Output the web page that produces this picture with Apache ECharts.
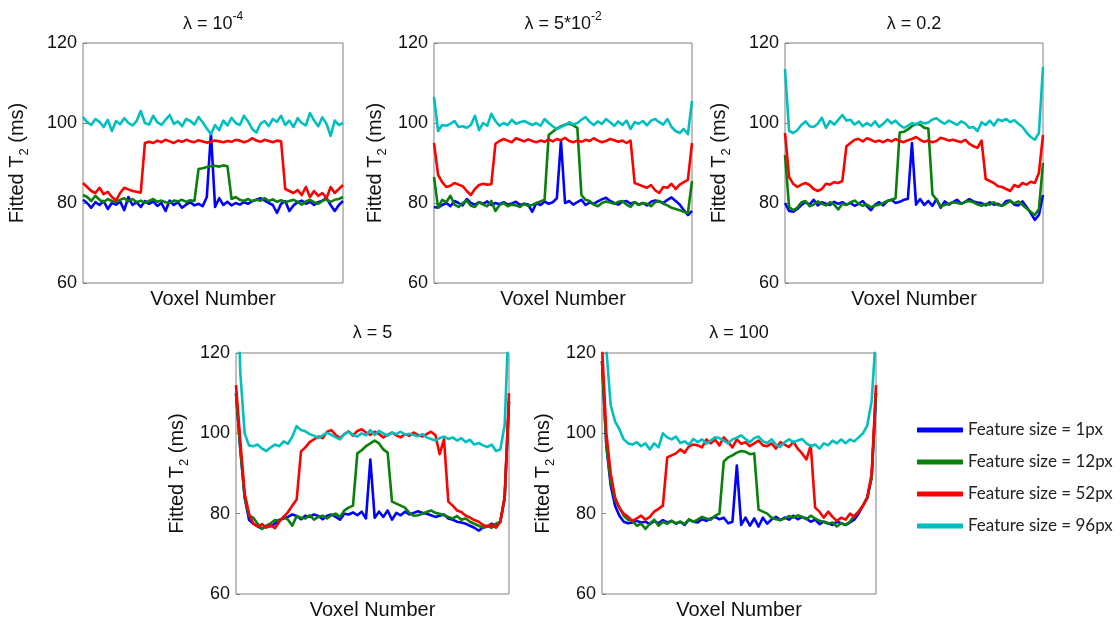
<!DOCTYPE html>
<html>
<head>
<meta charset="utf-8">
<script src="https://cdn.jsdelivr.net/npm/echarts@6/dist/echarts.min.js"></script>
<style>
html,body{margin:0;padding:0;background:#ffffff;}
#chart{width:1120px;height:624px;}
</style>
</head>
<body>
<div id="chart"></div>
<script>
// ---------------- DATA ----------------
const seriesNames = ['Feature size = 1px', 'Feature size = 12px', 'Feature size = 52px', 'Feature size = 96px'];
const panelTitles = ['{a|λ = 10}{s|-4}', '{a|λ = 5*10}{s|-2}', '{a|λ = 0.2}', '{a|λ = 5}', '{a|λ = 100}'];
const yTickValues = [60, 80, 100, 120];
const xAxisLabel = 'Voxel Number';
const yAxisLabel = '{m|Fitted T}{s|2}{m| (ms)}';

// Panel 1 : lambda = 1e-4
const p1Blue = [
  80.8, 80.0, 78.8, 80.2, 79.5, 80.5, 78.5, 80.0,
  79.6, 80.4, 78.2, 81.5, 79.5, 80.2, 79.0, 80.5,
  79.8, 80.4, 79.3, 80.0, 78.0, 80.6, 79.5, 80.2,
  78.8, 79.6, 80.2, 79.4, 79.8, 79.2, 81.5, 97.5,
  79.0, 81.2, 79.5, 80.3, 79.4, 80.0, 79.6, 80.2,
  79.8, 80.5, 80.8, 81.2, 80.6, 80.0, 79.5, 77.5,
  79.8, 80.5, 78.0, 79.4, 80.2, 80.6, 79.8, 80.3,
  79.5, 80.2, 80.6, 81.2, 79.5, 78.0, 79.5, 80.5
];
const p1Green = [
  82.0, 81.5, 80.5, 81.8, 80.8, 80.2, 81.0, 80.5,
  80.2, 80.8, 81.2, 80.4, 81.0, 80.2, 80.6, 80.0,
  80.5, 81.0, 80.3, 80.6, 80.2, 80.0, 80.6, 80.4,
  80.8, 80.3, 80.7, 80.5, 88.5, 88.7, 89.0, 89.2,
  89.3, 89.1, 89.4, 89.2, 81.0, 81.5, 80.8, 80.5,
  81.0, 80.4, 80.8, 80.6, 81.2, 80.5, 80.9, 80.3,
  80.7, 80.2, 80.5, 80.8, 80.3, 79.6, 80.4, 80.8,
  80.2, 79.8, 80.5, 80.9, 80.3, 80.8, 81.0, 81.5
];
const p1Red = [
  85.0, 84.0, 83.0, 82.5, 83.8, 82.2, 82.8, 81.5,
  80.6, 82.5, 83.8, 83.4, 83.0, 82.8, 82.6, 95.0,
  95.3, 95.0, 95.6, 95.2, 95.8, 95.4, 95.0, 95.6,
  95.3, 95.8, 95.4, 95.2, 95.7, 95.4, 95.1, 95.3,
  95.6, 95.4, 95.2, 95.5, 95.3, 95.8, 95.6, 95.2,
  95.5, 96.2, 95.6, 95.3, 95.8, 95.5, 95.2, 95.6,
  95.4, 83.5, 83.0, 82.5, 83.2, 82.0, 84.0, 81.5,
  83.0, 81.8, 82.5, 81.2, 84.0, 82.5, 83.5, 84.5
];
const p1Cyan = [
  101.5, 100.2, 99.5, 101.0, 100.3, 99.0, 100.8, 98.0,
  100.5, 99.7, 101.2, 100.0, 99.4, 100.5, 103.0, 100.0,
  99.6, 101.8, 100.2, 99.5, 100.8, 102.0, 99.8, 100.4,
  99.2, 101.0, 100.5, 99.6, 101.5, 100.2, 98.6, 97.2,
  99.5, 98.2, 100.6, 99.4, 101.3, 100.0, 99.5, 101.8,
  100.4, 98.5, 97.6, 99.8, 100.5, 99.2, 101.0, 100.3,
  101.8, 99.5, 100.6, 99.0, 101.2, 100.0, 99.4, 102.5,
  100.6, 99.2, 101.4, 99.8, 96.8, 100.6, 99.5, 100.0
];

// Panel 2 : lambda = 5e-2
const p2Blue = [
  79.0, 78.8, 79.5, 80.0, 79.2, 80.5, 80.0, 79.4,
  81.0, 80.0, 79.6, 80.2, 79.8, 80.4, 79.5, 80.0,
  79.7, 80.2, 79.6, 79.9, 80.3, 79.5, 79.8, 79.6,
  77.8, 80.0, 79.5, 80.4, 79.8, 80.2, 81.2, 95.5,
  80.0, 80.5, 79.6, 80.2, 80.8, 79.5, 80.1, 79.8,
  80.4, 80.9, 81.3, 80.5, 80.0, 79.6, 80.3, 80.5,
  79.8, 80.2, 79.6, 80.0, 79.4, 80.3, 80.6, 80.4,
  80.0, 80.8, 81.4, 80.5, 79.6, 78.2, 77.0, 78.0
];
const p2Green = [
  86.5, 78.8, 80.8, 80.2, 81.8, 79.6, 79.0, 80.0,
  80.6, 79.3, 79.0, 80.2, 79.6, 79.2, 80.5, 78.0,
  79.5, 80.0, 79.2, 79.6, 79.4, 79.0, 79.8, 79.3,
  79.5, 80.0, 80.4, 80.8, 97.0, 97.8, 98.6, 99.2,
  99.6, 99.8, 99.4, 98.8, 82.0, 80.8, 80.5, 79.6,
  79.2, 80.0, 80.4, 80.1, 79.8, 80.3, 80.5, 79.6,
  79.0, 80.2, 79.5, 80.0, 79.8, 79.2, 80.2, 80.5,
  79.8, 79.4, 78.8, 78.5, 78.2, 77.8, 77.5, 85.5
];
const p2Red = [
  95.0, 87.0, 85.2, 84.0, 84.3, 85.0, 84.6, 84.2,
  83.0, 82.0, 83.5, 84.5, 84.8, 84.6, 84.7, 94.8,
  95.5, 96.0, 95.6, 95.2, 96.2, 95.8, 95.4, 95.9,
  95.5, 95.2, 95.6, 95.3, 95.9, 95.4, 96.0, 95.7,
  96.3, 95.5, 95.2, 95.6, 95.3, 95.8, 95.5, 96.2,
  95.6, 95.2, 95.5, 96.0, 95.7, 95.3, 95.6, 95.0,
  95.6, 85.0, 84.6, 84.2, 83.8, 84.5, 83.2, 82.5,
  84.0, 83.8, 84.8, 83.5, 84.6, 85.2, 85.8, 95.0
];
const p2Cyan = [
  106.5, 98.0, 99.5, 99.3, 99.8, 100.5, 99.0, 99.2,
  98.8, 99.5, 101.8, 98.2, 100.0, 99.3, 102.3, 100.5,
  99.3, 100.0, 99.5, 100.8, 99.8, 100.2, 100.5, 100.0,
  99.5, 100.0, 99.3, 101.0, 100.0, 99.2, 98.5, 99.0,
  99.5, 100.2, 99.6, 100.0, 100.8, 101.5, 100.3, 99.5,
  100.4, 99.8, 101.0, 100.2, 99.3, 100.4, 99.5, 100.6,
  98.5, 100.2, 99.8, 100.5, 99.4, 100.6, 101.0, 100.2,
  99.6, 101.0, 99.0, 98.0, 97.5, 98.5, 97.2, 105.5
];

// Panel 3 : lambda = 0.2
const p3Blue = [
  80.0, 78.0, 77.8, 78.5, 79.5, 80.2, 79.6, 80.8,
  79.4, 80.2, 79.8, 79.5, 80.3, 79.8, 80.2, 79.6,
  80.0, 79.3, 79.8, 80.5, 79.2, 78.2, 79.6, 80.2,
  79.4, 80.5, 80.8, 80.0, 80.3, 80.8, 81.0, 95.0,
  79.6, 81.0, 79.5, 80.5, 79.3, 81.0, 78.8, 80.4,
  79.6, 80.2, 80.8, 79.8, 80.3, 81.0, 80.4, 80.1,
  80.0, 79.4, 80.2, 79.6, 79.8, 79.3, 80.5, 80.6,
  79.6, 79.4, 80.4, 79.0, 77.5, 75.8, 77.0, 82.0
];
const p3Green = [
  92.0, 79.0, 78.2, 78.8, 80.2, 80.5, 79.2, 79.6,
  80.4, 79.8, 79.4, 80.2, 79.6, 78.4, 79.8, 79.5,
  80.2, 80.6, 79.8, 79.3, 79.6, 78.9, 79.4, 79.6,
  80.0, 80.5, 80.8, 81.2, 97.6, 97.8, 98.4, 99.2,
  99.8, 99.6, 98.8, 98.6, 82.2, 80.8, 79.2, 79.5,
  79.8, 80.2, 80.0, 79.8, 80.3, 80.5, 80.2, 79.6,
  79.3, 79.8, 79.6, 80.2, 79.5, 79.3, 79.8, 80.5,
  79.9, 80.4, 79.5, 78.6, 77.8, 77.0, 78.5, 90.0
];
const p3Red = [
  97.5, 86.5, 84.8, 84.0, 84.6, 85.0, 84.5, 83.5,
  83.0, 83.5, 84.8, 84.6, 85.2, 85.0, 85.5, 94.2,
  95.0, 95.8, 96.0, 95.4, 96.2, 95.8, 95.3, 95.6,
  95.2, 95.8, 95.4, 96.0, 95.5, 95.2, 95.7, 96.0,
  96.5, 95.8, 95.3, 95.6, 95.2, 95.5, 96.3, 96.0,
  95.6, 95.8, 95.5, 95.2, 95.8, 94.8, 94.2, 93.8,
  95.6, 86.0, 85.5, 85.0, 84.2, 84.0, 83.5, 83.0,
  84.5, 84.0, 85.0, 84.6, 85.3, 85.0, 87.5, 97.0
];
const p3Cyan = [
  113.5, 98.0, 97.5, 98.2, 99.5, 100.4, 99.2, 99.0,
  99.8, 101.3, 98.8, 100.5, 99.6, 100.8, 102.0, 100.6,
  100.8, 99.6, 100.4, 99.2, 100.0, 99.3, 100.4, 99.0,
  99.8, 100.9, 99.9, 100.6, 99.5, 98.8, 99.3, 100.0,
  99.6, 100.3, 99.9, 100.1, 100.9, 101.2, 100.4, 99.8,
  100.6, 100.1, 99.5, 100.4, 99.9, 98.8, 99.0, 98.0,
  100.2, 99.5, 100.6, 99.4, 100.9, 100.5, 101.0, 100.2,
  100.7, 99.8, 99.0, 97.6, 96.5, 95.8, 97.5, 114.0
];

// Panel 4 : lambda = 5
const p4Blue = [
  110.0, 96.0, 84.0, 78.5, 77.5, 76.8, 76.3, 77.0,
  76.8, 77.5, 78.5, 78.8, 79.2, 79.8, 79.4, 78.6,
  79.5, 79.2, 79.8, 79.4, 78.6, 79.5, 79.8, 79.2,
  78.5, 80.0, 79.8, 80.3, 79.6, 80.5, 78.8, 93.5,
  79.0, 80.5, 79.2, 80.8, 78.5, 80.2, 79.6, 80.5,
  79.8, 80.2, 80.6, 80.2, 80.0, 79.6, 79.2, 79.5,
  79.8, 78.8, 78.5, 78.0, 77.8, 77.5, 77.0, 76.5,
  75.8, 76.5, 76.8, 77.5, 77.0, 78.0, 84.0, 108.0
];
const p4Green = [
  110.0, 96.0, 84.0, 79.5, 79.0, 77.5, 76.2, 77.0,
  77.6, 78.4, 78.2, 79.2, 78.5, 77.0, 79.4, 79.0,
  78.8, 79.6, 78.5, 79.2, 79.5, 78.8, 79.6, 80.0,
  79.2, 80.8, 81.5, 82.0, 95.0, 95.8, 96.8, 97.5,
  98.2, 97.5, 96.0, 95.2, 83.0, 82.5, 82.0, 81.5,
  80.2, 79.5, 79.6, 80.0, 80.4, 80.8, 80.2, 80.0,
  79.6, 79.2, 78.8, 79.4, 78.5, 78.8, 78.0, 77.5,
  77.0, 76.5, 77.0, 76.5, 77.5, 78.0, 84.0, 108.0
];
const p4Red = [
  112.0, 98.0, 85.0, 80.0, 77.5, 76.8, 77.4, 76.5,
  77.2, 76.4, 78.0, 79.2, 80.4, 82.0, 83.5, 95.5,
  96.5, 97.8, 98.5, 99.2, 98.8, 100.4, 100.8, 99.6,
  98.8, 99.8, 100.5, 99.4, 100.6, 101.0, 100.2, 99.6,
  100.4, 99.8, 99.0, 99.6, 100.2, 99.5, 99.0, 99.8,
  99.4, 100.2, 99.6, 99.2, 99.8, 100.4, 99.6, 94.8,
  98.5, 83.0, 82.0, 80.8, 80.4, 79.5, 79.0, 78.4,
  78.0, 77.2, 76.8, 77.3, 76.5, 78.0, 84.0, 110.0
];
const p4Cyan = [
  150.0, 115.0, 100.0, 97.0, 96.8, 97.2, 96.2, 95.6,
  96.5, 97.2, 96.8, 98.0, 97.4, 99.2, 101.8, 100.8,
  100.5, 99.8, 99.4, 98.8, 99.5, 100.2, 99.6, 99.0,
  98.5, 99.8, 100.4, 99.6, 99.2, 100.0, 99.5, 100.8,
  99.6, 100.6, 100.0, 99.4, 100.2, 99.8, 100.4, 99.7,
  99.9, 99.6, 99.3, 99.8, 99.0, 98.6, 98.2, 98.8,
  99.2, 98.6, 99.0, 98.2, 98.8, 97.8, 98.4, 97.2,
  97.6, 97.0, 96.6, 97.2, 95.6, 96.0, 102.0, 130.0
];

// Panel 5 : lambda = 100
const p5Blue = [
  118.0, 97.0, 87.0, 82.0, 79.5, 78.0, 77.6, 77.8,
  78.2, 77.8, 78.0, 77.4, 78.2, 77.6, 78.4, 77.8,
  78.2, 77.5, 78.0, 77.2, 78.5, 78.0, 77.8, 78.6,
  78.2, 78.8, 79.2, 78.6, 79.0, 77.6, 78.0, 92.0,
  77.2, 79.0, 77.0, 78.8, 76.8, 79.0, 77.5, 78.6,
  79.2, 78.4, 79.0, 78.5, 79.5, 78.6, 79.2, 78.8,
  78.0, 78.5, 77.4, 78.0, 77.6, 77.2, 78.0, 77.6,
  77.2, 77.8, 78.5, 80.0, 82.0, 84.0, 89.0, 110.0
];
const p5Green = [
  118.0, 97.0, 88.0, 83.5, 81.5, 79.5, 78.5, 78.2,
  77.0, 77.5, 76.2, 77.5, 78.5, 77.0, 78.0, 77.5,
  78.2, 77.6, 78.0, 77.4, 78.6, 78.0, 78.5, 79.2,
  78.8, 78.5, 79.5, 80.0, 93.0, 94.0, 94.5, 95.2,
  95.6, 95.4, 94.8, 95.0, 81.0, 80.5, 80.0, 79.0,
  78.6, 78.4, 78.8, 79.4, 79.0, 79.6, 79.2, 78.6,
  79.5, 78.8, 78.2, 78.0, 77.5, 77.8, 76.8, 77.6,
  77.2, 78.0, 79.5, 80.5, 82.0, 84.0, 89.0, 110.0
];
const p5Red = [
  122.0, 100.0, 90.0, 84.0, 81.5, 80.0, 79.2, 78.2,
  78.8, 79.5, 78.5, 79.2, 80.5, 81.2, 82.0, 94.0,
  94.5, 95.0, 96.0, 95.2, 96.8, 97.2, 97.0, 96.5,
  98.5, 97.5, 98.4, 97.0, 99.0, 97.8, 96.5, 98.5,
  97.4, 97.8, 96.8, 97.5, 98.2, 97.0, 96.8, 97.5,
  96.2, 97.8, 97.2, 96.6, 97.9, 96.2, 95.0, 93.5,
  97.0, 81.5, 80.5, 79.0, 80.5, 79.2, 78.2, 79.0,
  78.5, 80.0, 79.2, 80.5, 82.0, 84.0, 90.0, 112.0
];
const p5Cyan = [
  140.0, 121.0, 107.0, 103.0, 101.0, 98.5, 97.5, 97.2,
  97.8, 96.8, 97.5, 96.0, 97.5, 96.5, 100.0, 99.0,
  98.5, 99.2, 97.6, 98.0, 97.2, 98.6, 97.8, 98.5,
  97.4, 98.2, 99.0, 98.8, 98.2, 97.5, 98.5, 98.9,
  99.5, 98.6, 97.8, 98.8, 99.2, 98.0, 97.6, 98.5,
  97.2, 96.6, 97.8, 98.5, 97.8, 98.2, 98.6, 97.5,
  96.8, 97.2, 96.2, 97.5, 97.0, 98.2, 97.5, 98.5,
  97.5, 98.5, 98.0, 99.0, 100.0, 102.0, 108.0, 125.0
];

const panels = [
  [p1Blue, p1Green, p1Red, p1Cyan],
  [p2Blue, p2Green, p2Red, p2Cyan],
  [p3Blue, p3Green, p3Red, p3Cyan],
  [p4Blue, p4Green, p4Red, p4Cyan],
  [p5Blue, p5Green, p5Red, p5Cyan]
];

// ---------------- LAYOUT / STYLE ----------------
const colors = ['#0000ff', '#0a800a', '#ff0000', '#00bfbf'];
const layout = [
  { left: 83,  top: 43,  width: 260, height: 240, nameGap: 52, titleTop: 11 },
  { left: 434, top: 43,  width: 258, height: 240, nameGap: 45, titleTop: 11 },
  { left: 785, top: 43,  width: 258, height: 240, nameGap: 52, titleTop: 11 },
  { left: 236, top: 353, width: 273, height: 241, nameGap: 45, titleTop: 320 },
  { left: 602, top: 353, width: 274, height: 241, nameGap: 45, titleTop: 320 }
];
const FONT = 'Liberation Sans, Arial, sans-serif';

const grid = [], xAxis = [], yAxis = [], title = [], series = [];
layout.forEach((g, k) => {
  grid.push({ left: g.left, top: g.top, width: g.width, height: g.height,
    show: true, borderColor: '#808080', borderWidth: 1, backgroundColor: '#fff', containLabel: false });
  xAxis.push({
    gridIndex: k, type: 'value', min: 0, max: panels[k][0].length - 1,
    axisLine: { show: false }, axisTick: { show: false }, axisLabel: { show: false },
    splitLine: { show: false },
    name: xAxisLabel, nameLocation: 'middle', nameGap: 6,
    nameTextStyle: { fontFamily: FONT, fontSize: 20, color: '#111', verticalAlign: 'top' }
  });
  yAxis.push({
    gridIndex: k, type: 'value', min: yTickValues[0], max: yTickValues[yTickValues.length - 1],
    interval: yTickValues[1] - yTickValues[0],
    axisLine: { show: false },
    axisTick: { show: true, inside: true, length: 4, lineStyle: { color: '#808080' } },
    axisLabel: { fontFamily: FONT, fontSize: 18, color: '#111', margin: 6 },
    splitLine: { show: false },
    name: yAxisLabel, nameLocation: 'middle', nameRotate: 90, nameGap: g.nameGap,
    nameTextStyle: {
      rich: {
        m: { fontFamily: FONT, fontSize: 20, color: '#111', lineHeight: 28 },
        s: { fontFamily: FONT, fontSize: 13, color: '#111', lineHeight: 14, verticalAlign: 'bottom' }
      }
    }
  });
  title.push({
    text: panelTitles[k], left: g.left + g.width / 2, top: g.titleTop, textAlign: 'center', padding: 0,
    textStyle: {
      fontWeight: 'normal',
      rich: {
        a: { fontFamily: FONT, fontSize: 18, fontWeight: 'normal', color: '#111', lineHeight: 26 },
        s: { fontFamily: FONT, fontSize: 12, fontWeight: 'normal', color: '#111', lineHeight: 14, verticalAlign: 'top' }
      }
    }
  });
  panels[k].forEach((arr, j) => {
    series.push({
      name: seriesNames[j], type: 'line', xAxisIndex: k, yAxisIndex: k,
      data: arr.map((v, i) => [i, v]),
      showSymbol: false, symbol: 'none', clip: true,
      lineStyle: { color: colors[j], width: 2.6, join: 'round' },
      itemStyle: { color: colors[j] },
      z: 2 + j
    });
  });
});

const chart = echarts.init(document.getElementById('chart'), null, { renderer: 'canvas' });
chart.setOption({
  animation: false,
  backgroundColor: '#ffffff',
  title, grid, xAxis, yAxis, series,
  legend: {
    data: seriesNames, orient: 'vertical', left: 912, top: 415,
    icon: 'rect', itemWidth: 46, itemHeight: 5, itemGap: 12, selectedMode: false,
    textStyle: { fontFamily: 'Lato, Open Sans, sans-serif', fontSize: 17, color: '#222', lineHeight: 20 }
  }
});
</script>
</body>
</html>
